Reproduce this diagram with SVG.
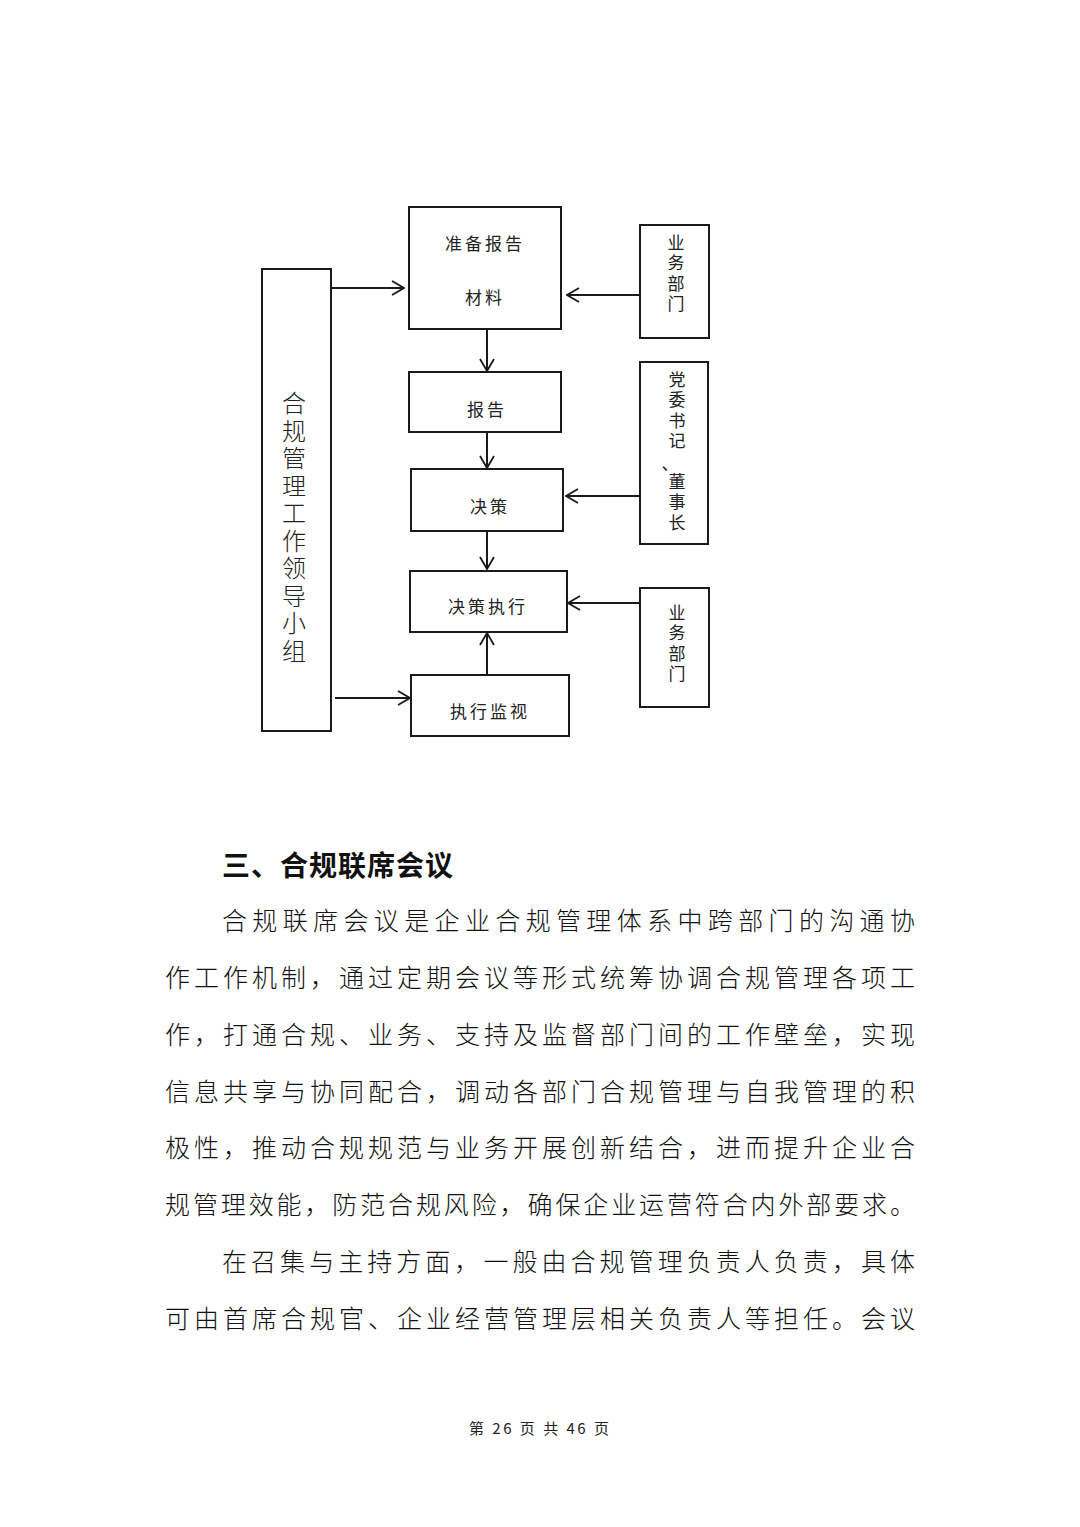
<svg xmlns="http://www.w3.org/2000/svg" width="1080" height="1527" viewBox="0 0 1080 1527">
<defs>
<marker id="ah" viewBox="0 0 14 16" refX="13" refY="8" markerWidth="14" markerHeight="16" markerUnits="userSpaceOnUse" orient="auto">
<path d="M1,1 L13,8 L1,15" fill="none" stroke="#1a1a1a" stroke-width="1.8"/>
</marker>
<style>
.box{fill:#fff;stroke:#1a1a1a;stroke-width:2}
.lbl{font-family:"Noto Sans CJK SC","Liberation Sans",sans-serif;font-size:17px;fill:#222;text-anchor:middle;dominant-baseline:central}
.vt{font-family:"Noto Sans CJK SC","Liberation Sans",sans-serif;font-size:17px;fill:#222;writing-mode:vertical-rl;text-anchor:start;dominant-baseline:central;letter-spacing:3.5px}
.big{font-family:"Noto Sans CJK SC","Liberation Sans",sans-serif;font-size:24px;fill:#222;writing-mode:vertical-rl;text-anchor:start;dominant-baseline:central;font-weight:300;letter-spacing:3.5px}
.con{fill:none;stroke:#1a1a1a;stroke-width:2;marker-end:url(#ah)}
.h{font-family:"Noto Sans CJK SC","Liberation Sans",sans-serif;font-size:28px;font-weight:700;fill:#111}
.p{font-family:"Noto Sans CJK SC","Liberation Sans",sans-serif;font-size:25px;font-weight:300;fill:#111}
.ft{font-family:"Noto Sans CJK SC","Liberation Sans",sans-serif;font-size:15px;fill:#222}
</style>
</defs>
<rect width="1080" height="1527" fill="#fff"/>

<g id="group-leader">
<rect class="box" x="262" y="269" width="69" height="462"/>
<text class="big" x="294" y="391">合规管理工作领导小组</text>
</g>

<g id="prepare">
<rect class="box" x="409" y="207" width="152" height="122"/>
<text class="lbl" x="485" y="242" letter-spacing="3">准备报告</text>
<text class="lbl" x="485" y="296" letter-spacing="3">材料</text>
</g>

<g id="report">
<rect class="box" x="409" y="372" width="152" height="60"/>
<text class="lbl" x="487" y="408" letter-spacing="3">报告</text>
</g>

<g id="decision">
<rect class="box" x="411" y="469" width="152" height="62"/>
<text class="lbl" x="490" y="505" letter-spacing="3">决策</text>
</g>

<g id="execution">
<rect class="box" x="410" y="571" width="157" height="61"/>
<text class="lbl" x="488" y="605" letter-spacing="3">决策执行</text>
</g>

<g id="monitor">
<rect class="box" x="411" y="675" width="158" height="61"/>
<text class="lbl" x="490" y="710" letter-spacing="3">执行监视</text>
</g>

<g id="business1">
<rect class="box" x="640" y="225" width="69" height="113"/>
<text class="vt" x="676" y="234">业务部门</text>
</g>

<g id="party">
<rect class="box" x="640" y="362" width="68" height="182"/>
<text class="vt" x="677" y="371">党委书记</text>
<text class="lbl" x="670" y="462">、</text>
<text class="vt" x="677" y="473">董事长</text>
</g>

<g id="business2">
<rect class="box" x="640" y="588" width="69" height="119"/>
<text class="vt" x="677" y="604">业务部门</text>
</g>

<g id="connectors">
<line class="con" x1="331" y1="288" x2="404" y2="288"/>
<line class="con" x1="640" y1="295" x2="567" y2="295"/>
<line class="con" x1="487" y1="329" x2="487" y2="371"/>
<line class="con" x1="487" y1="432" x2="487" y2="468"/>
<line class="con" x1="640" y1="496" x2="566" y2="496"/>
<line class="con" x1="487" y1="531" x2="487" y2="569"/>
<line class="con" x1="640" y1="603" x2="568" y2="603"/>
<line class="con" x1="487" y1="675" x2="487" y2="633"/>
<line class="con" x1="335" y1="698" x2="410" y2="698"/>
</g>

<text class="h" x="222" y="876" textLength="231" lengthAdjust="spacing">三、合规联席会议</text>
<text class="p" x="222" y="930" textLength="693" lengthAdjust="spacing">合规联席会议是企业合规管理体系中跨部门的沟通协</text>
<text class="p" x="165" y="987" textLength="750" lengthAdjust="spacing">作工作机制，通过定期会议等形式统筹协调合规管理各项工</text>
<text class="p" x="165" y="1044" textLength="750" lengthAdjust="spacing">作，打通合规、业务、支持及监督部门间的工作壁垒，实现</text>
<text class="p" x="165" y="1101" textLength="750" lengthAdjust="spacing">信息共享与协同配合，调动各部门合规管理与自我管理的积</text>
<text class="p" x="165" y="1157" textLength="750" lengthAdjust="spacing">极性，推动合规规范与业务开展创新结合，进而提升企业合</text>
<text class="p" x="165" y="1214" textLength="750" lengthAdjust="spacing">规管理效能，防范合规风险，确保企业运营符合内外部要求。</text>
<text class="p" x="222" y="1271" textLength="693" lengthAdjust="spacing">在召集与主持方面，一般由合规管理负责人负责，具体</text>
<text class="p" x="165" y="1328" textLength="750" lengthAdjust="spacing">可由首席合规官、企业经营管理层相关负责人等担任。会议</text>

<text class="ft" x="469" y="1434" textLength="140" lengthAdjust="spacing">第 26 页 共 46 页</text>
</svg>
